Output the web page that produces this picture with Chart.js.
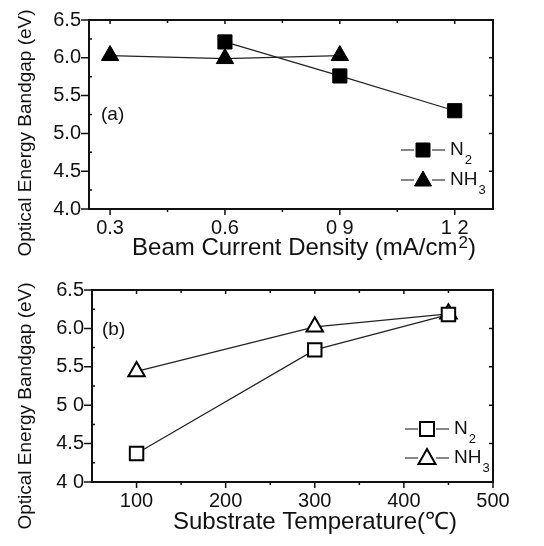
<!DOCTYPE html>
<html><head><meta charset="utf-8">
<script src="https://cdn.jsdelivr.net/npm/chart.js@4/dist/chart.umd.min.js"></script>
<style>
html,body{margin:0;padding:0;background:#fff;}
#wrap{position:relative;width:544px;height:546px;}
.c{position:absolute;left:0;}
</style></head><body>
<div id="wrap">
<div class="c" style="top:0;width:544px;height:270px"><canvas id="ca"></canvas></div>
<div class="c" style="top:270px;width:544px;height:276px"><canvas id="cb"></canvas></div>
</div>
<script>
// ---- data ----
const beamCurrentN2 = [0.6, 0.9, 1.2];
const bandgapN2_a = [6.21, 5.76, 5.30];
const beamCurrentNH3 = [0.3, 0.6, 0.9];
const bandgapNH3_a = [6.03, 5.99, 6.03];
const substrateTemp = [100, 300, 450];
const bandgapN2_b = [4.37, 5.72, 6.18];
const bandgapNH3_b = [5.44, 6.02, 6.19];
// ---- ticks ----
const xTicksA = [0.3, 0.6, 0.9, 1.2];
const xTickLabelsA = ['0.3', '0.6', '0 9', '1 2'];
const xMinorA = [0.45, 0.75, 1.05];
const yTicks = [4.0, 4.5, 5.0, 5.5, 6.0, 6.5];
const yTickLabelsA = ['4.0', '4.5', '5.0', '5.5', '6.0', '6.5'];
const yTickLabelsB = ['4 0', '4.5', '5 0', '5.5', '6.0', '6.5'];
const yMinor = [4.25, 4.75, 5.25, 5.75, 6.25];
const xTicksB = [100, 200, 300, 400, 500];
const xTickLabelsB = ['100', '200', '300', '400', '500'];
const xMinorB = [150, 250, 350, 450];
const seriesNames = ['N', 'NH'];
const seriesSubs = ['2', '3'];
// x titles as [text, superscript?] parts
const xTitleA = [['Beam Current Density (mA/cm', false], ['2', true], [')', false]];
const xTitleB = [['Substrate Temperature(℃)', false]];

const FONT = '"Liberation Sans", Arial, sans-serif';
const INK = '#111';

function pts(xs, ys) { return xs.map((x, i) => ({x: x, y: ys[i]})); }

const framePlugin = {
  id: 'frame',
  afterDraw(chart, args, o) {
    const {ctx, chartArea: {left, right, top, bottom}, scales: {x, y}} = chart;
    ctx.save();
    ctx.strokeStyle = INK;
    ctx.lineWidth = 1.5;
    ctx.beginPath();
    o.xMajor.forEach(v => { const p = x.getPixelForValue(v);
      ctx.moveTo(p, bottom); ctx.lineTo(p, bottom + 6);
      ctx.moveTo(p, top); ctx.lineTo(p, top + 4); });
    o.xMinor.forEach(v => { const p = x.getPixelForValue(v);
      ctx.moveTo(p, bottom); ctx.lineTo(p, bottom + 3);
      ctx.moveTo(p, top); ctx.lineTo(p, top + 3); });
    o.yMajor.forEach(v => { const p = y.getPixelForValue(v);
      ctx.moveTo(left, p); ctx.lineTo(left - 8, p);
      ctx.moveTo(right, p); ctx.lineTo(right - 4, p); });
    o.yMinor.forEach(v => { const p = y.getPixelForValue(v);
      ctx.moveTo(left, p); ctx.lineTo(left + 3, p); });
    ctx.stroke();
    ctx.lineWidth = 2;
    ctx.strokeRect(left, top, right - left, bottom - top);
    // y title
    ctx.fillStyle = INK;
    ctx.font = '19px ' + FONT;
    ctx.textAlign = 'center';
    ctx.textBaseline = 'middle';
    ctx.save();
    ctx.translate(o.yTitleX, o.yTitleY);
    ctx.rotate(-Math.PI / 2);
    ctx.fillText('Optical Energy Bandgap (eV)', 0, 0);
    ctx.restore();
    // x title
    ctx.textAlign = 'left';
    const mainF = '24px ' + FONT, supF = '17px ' + FONT;
    let total = 0;
    o.xTitle.forEach(([t, sup]) => { ctx.font = sup ? supF : mainF; total += ctx.measureText(t).width + (sup ? 1 : 0); });
    let tx = o.xTitleX - total / 2;
    o.xTitle.forEach(([t, sup]) => {
      ctx.font = sup ? supF : mainF;
      ctx.fillText(t, tx + (sup ? 1 : 0), o.xTitleY - (sup ? 5 : 0));
      tx += ctx.measureText(t).width + (sup ? 1 : 0);
    });
    // panel label
    ctx.font = '19px ' + FONT;
    ctx.fillText(o.panel, o.panelX, o.panelY);
    // legend
    chart.data.datasets.forEach((ds, i) => {
      const ly = o.legY[i];
      const cx = o.legX;
      ctx.lineWidth = 1.2;
      ctx.strokeStyle = INK;
      ctx.beginPath();
      ctx.moveTo(cx - 22, ly); ctx.lineTo(cx - 9, ly);
      ctx.moveTo(cx + 9, ly); ctx.lineTo(cx + 22, ly);
      ctx.stroke();
      ctx.fillStyle = ds.pointBackgroundColor;
      ctx.strokeStyle = ds.pointBorderColor;
      ctx.lineWidth = ds.pointBorderWidth;
      ctx.beginPath();
      if (ds.pointStyle === 'rect') {
        ctx.rect(cx - 7, ly - 7, 14, 14);
      } else {
        ctx.moveTo(cx, ly - 9); ctx.lineTo(cx + 8.5, ly + 6); ctx.lineTo(cx - 8.5, ly + 6); ctx.closePath();
      }
      ctx.fill(); ctx.stroke();
      ctx.fillStyle = INK;
      ctx.font = '19px ' + FONT;
      ctx.textAlign = 'left';
      ctx.fillText(seriesNames[i], cx + 27, ly);
      const w = ctx.measureText(seriesNames[i]).width;
      ctx.font = '13px ' + FONT;
      ctx.fillText(seriesSubs[i], cx + 28 + w, ly + 10);
    });
    ctx.restore();
  }
};

function makeChart(id, cfg) {
  return new Chart(document.getElementById(id), {
    type: 'scatter',
    data: {datasets: cfg.datasets},
    options: {
      responsive: true, maintainAspectRatio: false, animation: false,
      layout: {padding: {top: cfg.padTop, right: cfg.padRight, left: 0, bottom: 0}},
      plugins: {legend: {display: false}, tooltip: {enabled: false}, frame: cfg.frame},
      scales: {
        x: {
          type: 'linear', min: cfg.xMin, max: cfg.xMax,
          grid: {display: false, drawTicks: false}, border: {display: false},
          afterBuildTicks: s => { s.ticks = cfg.xTicks.map(v => ({value: v})); },
          afterFit: s => { s.height = cfg.xAxisH; },
          ticks: {padding: 7, color: INK, font: {size: 20, family: FONT}, maxRotation: 0,
            callback: v => cfg.xLabels[cfg.xTicks.indexOf(v)]}
        },
        y: {
          type: 'linear', min: 4.0, max: 6.5,
          grid: {display: false, drawTicks: false}, border: {display: false},
          afterBuildTicks: s => { s.ticks = yTicks.map(v => ({value: v})); },
          afterFit: s => { s.width = cfg.yAxisW; },
          ticks: {padding: 8, color: INK, font: {size: 20, family: FONT},
            callback: v => cfg.yLabels[yTicks.indexOf(v)]}
        }
      }
    },
    plugins: [framePlugin]
  });
}

const lineCommon = {showLine: true, borderColor: '#222', borderWidth: 1.2, clip: false, pointBorderColor: '#000'};

makeChart('ca', {
  padTop: 15, padRight: 51, xAxisH: 61, yAxisW: 89,
  xMin: 0.245, xMax: 1.3, xTicks: xTicksA, xLabels: xTickLabelsA,
  yLabels: yTickLabelsA,
  datasets: [
    Object.assign({}, lineCommon, {label: 'N2', data: pts(beamCurrentN2, bandgapN2_a),
      pointStyle: 'rect', pointRadius: 10, pointBackgroundColor: '#000', pointBorderWidth: 1}),
    Object.assign({}, lineCommon, {label: 'NH3', data: pts(beamCurrentNH3, bandgapNH3_a),
      pointStyle: 'triangle', pointRadius: 10, pointBackgroundColor: '#000', pointBorderWidth: 1})
  ],
  frame: {xMajor: xTicksA, xMinor: xMinorA, yMajor: yTicks, yMinor: yMinor,
    yTitleX: 26, yTitleY: 133, xTitle: xTitleA, xTitleX: 304, xTitleY: 248,
    panel: '(a)', panelX: 101, panelY: 115,
    legX: 423, legY: [150, 180]}
});

makeChart('cb', {
  padTop: 18, padRight: 51, xAxisH: 64, yAxisW: 92,
  xMin: 50, xMax: 500, xTicks: xTicksB, xLabels: xTickLabelsB,
  yLabels: yTickLabelsB,
  datasets: [
    Object.assign({}, lineCommon, {label: 'N2', data: pts(substrateTemp, bandgapN2_b),
      pointStyle: 'rect', pointRadius: 9.5, pointBackgroundColor: '#fff', pointBorderWidth: 2}),
    Object.assign({}, lineCommon, {label: 'NH3', data: pts(substrateTemp, bandgapNH3_b),
      pointStyle: 'triangle', pointRadius: 9.5, pointBackgroundColor: '#fff', pointBorderWidth: 2})
  ],
  frame: {xMajor: xTicksB, xMinor: xMinorB, yMajor: yTicks, yMinor: yMinor,
    yTitleX: 26, yTitleY: 136, xTitle: xTitleB, xTitleX: 315, xTitleY: 252,
    panel: '(b)', panelX: 102, panelY: 60,
    legX: 427, legY: [159, 188]}
});
</script>
</body></html>
